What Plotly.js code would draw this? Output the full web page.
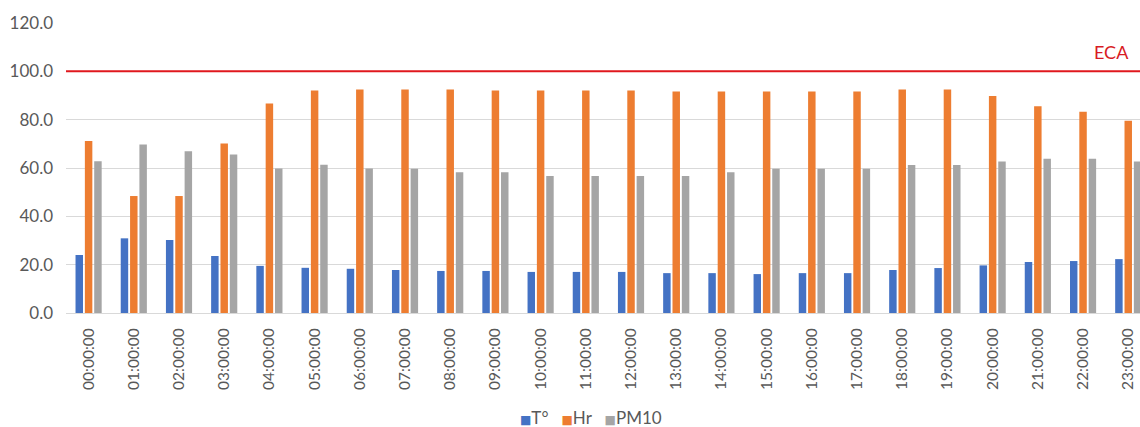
<!DOCTYPE html>
<html>
<head>
<meta charset="utf-8">
<script src="https://cdn.plot.ly/plotly-3.0.1.min.js"></script>
<style>html,body{margin:0;padding:0;background:#fff;}#chart{width:1140px;height:427px;}</style>
</head>
<body>
<div id="chart"></div>
<script>
const hours = ["00:00:00","01:00:00","02:00:00","03:00:00","04:00:00","05:00:00","06:00:00","07:00:00",
  "08:00:00","09:00:00","10:00:00","11:00:00","12:00:00","13:00:00","14:00:00","15:00:00",
  "16:00:00","17:00:00","18:00:00","19:00:00","20:00:00","21:00:00","22:00:00","23:00:00"];
const temp = [24.0,30.9,30.2,23.6,19.5,18.7,18.3,17.8,17.4,17.4,17.0,17.0,17.0,16.5,16.5,16.1,
  16.5,16.5,17.8,18.6,19.7,21.1,21.5,22.3];
const hr = [71.2,48.4,48.4,70.1,86.7,92.1,92.5,92.5,92.5,92.1,92.1,92.1,92.1,91.7,91.7,91.7,
  91.7,91.7,92.5,92.5,89.8,85.6,83.3,79.6];
const pm10 = [62.8,69.7,66.9,65.6,59.8,61.3,59.8,59.7,58.2,58.2,56.7,56.7,56.7,56.7,58.2,59.7,
  59.7,59.7,61.2,61.2,62.7,63.8,63.8,62.7];
const seriesNames = ["T°","Hr","PM10"];
const ecaLimit = 100;
const ecaLabel = "ECA";
const yTicks = [0,20,40,60,80,100,120];

const colors = ["#4472C4","#ED7D31","#A5A5A5"];
const txt = "#595959";
const font = "Lato, 'Open Sans', sans-serif";

const data = [temp, hr, pm10].map((v,i)=>({
  type:"bar", x:hours, y:v, name:seriesNames[i],
  marker:{color:colors[i]}, hoverinfo:"x+y+name"
}));

// compact Excel-style legend: coloured square glyph immediately before each series name
const legendText = seriesNames.map((n,i)=>
  `<span style="color:${colors[i]};font-family:'DejaVu Sans';font-size:12px">■</span>${n}`).join("&nbsp;&nbsp;&nbsp;");

const layout = {
  width:1140, height:427,
  margin:{l:66, r:0, t:23, b:114},
  paper_bgcolor:"#fff", plot_bgcolor:"#fff",
  font:{family:font, color:txt, size:15},
  barmode:"group", bargap:0.38, bargroupgap:0.2,
  showlegend:false,
  xaxis:{type:"category", range:[-0.5, 23.26], tickangle:-90, showgrid:false,
    showline:true, linecolor:"#D9D9D9", linewidth:1, ticks:"", ticklabelstandoff:8,
    tickfont:{size:15.5, color:txt}, fixedrange:true},
  yaxis:{range:[0,120], tickvals:yTicks, tickformat:".1f", showgrid:true, gridcolor:"#D9D9D9",
    gridwidth:1, zeroline:false, showline:false, ticks:"", ticklabelstandoff:12,
    tickfont:{size:17, color:txt}, fixedrange:true},
  shapes:[{type:"line", xref:"paper", x0:0, x1:1, yref:"y", y0:ecaLimit, y1:ecaLimit,
    line:{color:"#E0181E", width:2}}],
  annotations:[
    {text:ecaLabel, xref:"paper", x:1, xanchor:"right", xshift:-9,
     yref:"y", y:ecaLimit, yanchor:"bottom", yshift:6, showarrow:false,
     font:{size:18, color:"#D81B24", family:font}},
    {text:legendText, xref:"paper", x:(591-66)/1074, xanchor:"center",
     yref:"paper", y:-0.362, yanchor:"middle", showarrow:false,
     font:{size:17, color:txt, family:font}}
  ]
};
Plotly.newPlot("chart", data, layout, {displayModeBar:false, staticPlot:true});
</script>
</body>
</html>
